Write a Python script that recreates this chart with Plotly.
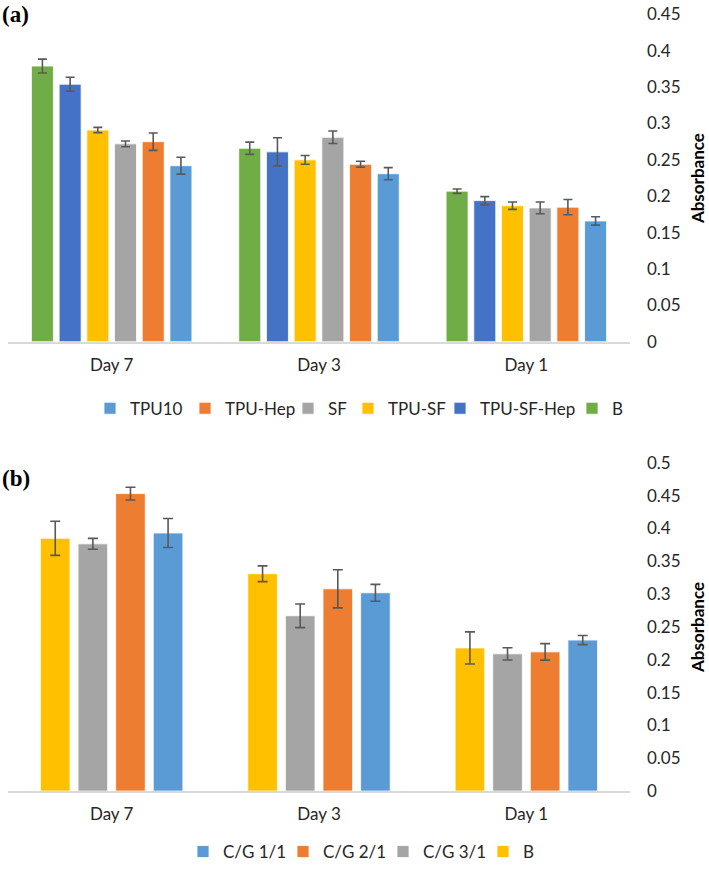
import plotly.graph_objects as go

# ---------------- data ----------------
days = ["Day 7", "Day 3", "Day 1"]

# panel (a)  (plot order left->right inside each group)
a_series = ["B", "TPU-SF-Hep", "TPU-SF", "SF", "TPU-Hep", "TPU10"]
a_B = [0.379, 0.266, 0.207]
a_TPU_SF_Hep = [0.354, 0.261, 0.194]
a_TPU_SF = [0.291, 0.250, 0.187]
a_SF = [0.272, 0.281, 0.184]
a_TPU_Hep = [0.275, 0.244, 0.185]
a_TPU10 = [0.242, 0.231, 0.166]
a_B_err = [0.0095, 0.0084, 0.003]
a_TPU_SF_Hep_err = [0.0095, 0.0195, 0.0055]
a_TPU_SF_err = [0.0036, 0.006, 0.005]
a_SF_err = [0.004, 0.0086, 0.008]
a_TPU_Hep_err = [0.012, 0.004, 0.0105]
a_TPU10_err = [0.0116, 0.0084, 0.0057]

# panel (b)
b_series = ["B", "C/G 3/1", "C/G 2/1", "C/G 1/1"]
b_B = [0.385, 0.331, 0.218]
b_CG31 = [0.3765, 0.267, 0.209]
b_CG21 = [0.453, 0.308, 0.212]
b_CG11 = [0.393, 0.302, 0.230]
b_B_err = [0.026, 0.012, 0.0245]
b_CG31_err = [0.0083, 0.018, 0.0093]
b_CG21_err = [0.0098, 0.029, 0.0126]
b_CG11_err = [0.022, 0.0128, 0.007]

a_ticks = [0, 0.05, 0.1, 0.15, 0.2, 0.25, 0.3, 0.35, 0.4, 0.45]
b_ticks = [0, 0.05, 0.1, 0.15, 0.2, 0.25, 0.3, 0.35, 0.4, 0.45, 0.5]

# ---------------- style ----------------
GREEN, BLUE, YELLOW, GRAY, ORANGE, LBLUE = "#70AD47", "#4472C4", "#FFC000", "#A5A5A5", "#ED7D31", "#5B9BD5"
a_colors = [GREEN, BLUE, YELLOW, GRAY, ORANGE, LBLUE]
b_colors = [YELLOW, GRAY, ORANGE, LBLUE]
# legend entry widths (px) to mimic the Excel legend spacing
a_legw = [0, 87, 47, 15, 58, 50]
b_legw = [0, 55, 55, 55]
TXT = "#262626"
FONT = "Lato"
ERRC = "#595959"

a_vals = [a_B, a_TPU_SF_Hep, a_TPU_SF, a_SF, a_TPU_Hep, a_TPU10]
a_errs = [a_B_err, a_TPU_SF_Hep_err, a_TPU_SF_err, a_SF_err, a_TPU_Hep_err, a_TPU10_err]
b_vals = [b_B, b_CG31, b_CG21, b_CG11]
b_errs = [b_B_err, b_CG31_err, b_CG21_err, b_CG11_err]

fig = go.Figure()

# group geometry (fraction of a category)
a_slot, a_w = 0.1336, 0.1061
b_slot, b_w = 0.1814, 0.1428

n = len(a_series)
for i, (name, v, e, c, lw) in enumerate(zip(a_series, a_vals, a_errs, a_colors, a_legw)):
    center = (i - (n - 1) / 2) * a_slot
    fig.add_trace(go.Bar(
        x=days, y=v, name=name, xaxis="x", yaxis="y", legend="legend",
        marker=dict(color=c, line=dict(color="white", width=0.8)),
        width=a_w, offset=center - a_w / 2, legendwidth=lw if lw else None,
        error_y=dict(type="data", array=e, visible=True, color=ERRC, thickness=1.6, width=4.5),
    ))

m = len(b_series)
for i, (name, v, e, c, lw) in enumerate(zip(b_series, b_vals, b_errs, b_colors, b_legw)):
    center = (i - (m - 1) / 2) * b_slot
    fig.add_trace(go.Bar(
        x=days, y=v, name=name, xaxis="x2", yaxis="y2", legend="legend2",
        marker=dict(color=c, line=dict(color="white", width=0.8)),
        width=b_w, offset=center - b_w / 2, legendwidth=lw if lw else None,
        error_y=dict(type="data", array=e, visible=True, color=ERRC, thickness=1.6, width=5),
    ))

W, H = 709, 870
xdom = [8 / W, 630 / W]
ya_dom = [1 - 344.5 / H, 1 - 14.5 / H]
yb_dom = [1 - 797.5 / H, 1 - 466.5 / H]

xa_common = dict(domain=xdom, showgrid=False, showline=True, linecolor="#D9D9D9", linewidth=1.5,
                 ticks="", tickfont=dict(family=FONT, size=17, color=TXT), ticklabelstandoff=7,
                 zeroline=False, automargin=False, categoryorder="array", categoryarray=days)

def yax(dom, anchor, rng, ticks):
    return dict(domain=dom, anchor=anchor, side="right", range=rng, tickvals=ticks,
                ticktext=[("%g" % t) for t in ticks], showgrid=False, showline=False, zeroline=False,
                ticks="", ticklabelstandoff=16, automargin=False,
                tickfont=dict(family=FONT, size=17, color=TXT),
                title=dict(text="<b>Absorbance</b>", font=dict(family=FONT, size=17, color="#000000"),
                           standoff=12))

fig.update_layout(
    width=W, height=H, margin=dict(l=0, r=0, t=0, b=0),
    paper_bgcolor="white", plot_bgcolor="white",
    barmode="group", showlegend=True,
    xaxis=dict(anchor="y", **xa_common),
    xaxis2=dict(anchor="y2", **xa_common),
    yaxis=yax(ya_dom, "x", [0, 0.45], a_ticks),
    yaxis2=yax(yb_dom, "x2", [0, 0.5], b_ticks),
    legend=dict(orientation="h", x=90 / W, xanchor="left", y=1 - 412 / H, yanchor="middle",
                traceorder="reversed", font=dict(family=FONT, size=17, color=TXT),
                itemwidth=30, bgcolor="rgba(0,0,0,0)"),
    legend2=dict(orientation="h", x=183 / W, xanchor="left", y=1 - 859 / H, yanchor="middle",
                 traceorder="reversed", font=dict(family=FONT, size=17, color=TXT),
                 itemwidth=30, bgcolor="rgba(0,0,0,0)"),
    annotations=[
        dict(text="<b>(a)</b>", x=0, y=1 - 15 / H, xref="paper", yref="paper", xanchor="left",
             yanchor="middle", showarrow=False,
             font=dict(family="Liberation Serif", size=23, color="#000000")),
        dict(text="<b>(b)</b>", x=0, y=1 - 482 / H, xref="paper", yref="paper", xanchor="left",
             yanchor="middle", showarrow=False,
             font=dict(family="Liberation Serif", size=23, color="#000000")),
    ],
)

fig.write_html("out.html", config={"displayModeBar": False},
               post_script="document.body.style.margin='0';document.body.style.overflow='hidden';")
